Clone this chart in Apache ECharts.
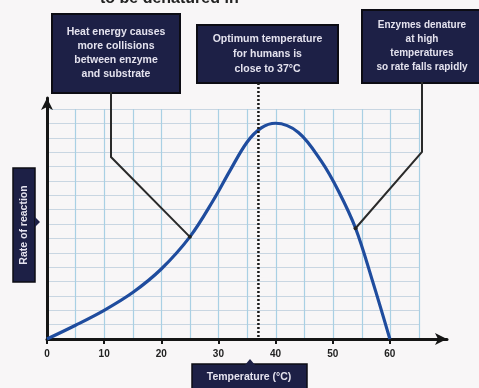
<!DOCTYPE html>
<html>
<head>
<meta charset="utf-8">
<style>
  html, body { margin: 0; padding: 0; background: #f8f6f7; }
  #chart { width: 479px; height: 388px; }
</style>
<script src="https://cdn.jsdelivr.net/npm/echarts@6/dist/echarts.min.js"></script>
</head>
<body>
<div id="chart"></div>
<script>
// Enzyme activity curve: rate of reaction against temperature
const temps = [0, 5, 10, 15, 20, 25, 29, 32, 35, 37.5, 40, 44, 48, 51, 54, 57, 60];
const rates = [0, 2.4, 5.0, 8.1, 12.2, 17.8, 24.0, 29.3, 34.3, 36.8, 37.6, 36, 31, 25.8, 19.3, 10, 0];
const tickLabels = [0, 10, 20, 30, 40, 50, 60];
const optimumTemp = 37;
const risingNoteTemp = 25;
const fallingNoteTemp = 54;

const noteRising = ['Heat energy causes', 'more collisions', 'between enzyme', 'and substrate'];
const noteOptimum = ['Optimum temperature', 'for humans is', 'close to 37°C'];
const noteFalling = ['Enzymes denature', 'at high', 'temperatures', 'so rate falls rapidly'];
const xAxisTitle = 'Temperature (°C)';
const yAxisTitle = 'Rate of reaction';

const NAVY = '#1d2046';
const INK = '#151515';
const FONT = '"Liberation Sans", Arial, sans-serif';

const chart = echarts.init(document.getElementById('chart'), null, { renderer: 'canvas' });

chart.setOption({
  backgroundColor: '#f8f6f7',
  animation: false,
  grid: [
    // graph-paper area
    { left: 47, top: 109, width: 372, height: 230 },
    // plotting area with arrowed axes
    { left: 47, top: 98, width: 400, height: 241 }
  ],
  xAxis: [
    {
      gridIndex: 0, type: 'value', min: 0, max: 65, interval: 5,
      axisLine: { show: false }, axisTick: { show: false }, axisLabel: { show: false },
      splitLine: { show: true, lineStyle: { color: '#a9d0e4', width: 1.2 } }
    },
    {
      gridIndex: 1, type: 'value', min: 0, max: 70, interval: 10,
      axisLine: {
        show: true, symbol: ['none', 'arrow'], symbolSize: [9, 12],
        lineStyle: { color: INK, width: 3 }
      },
      axisTick: {
        show: true, length: 5, inside: false, customValues: tickLabels,
        lineStyle: { color: INK, width: 2 }
      },
      axisLabel: {
        show: true, margin: 10, customValues: tickLabels,
        color: '#222', fontSize: 10, fontWeight: 'bold', fontFamily: FONT
      },
      splitLine: { show: false }
    }
  ],
  yAxis: [
    {
      gridIndex: 0, type: 'value', min: 0, max: 40, interval: 2.5,
      axisLine: { show: false }, axisTick: { show: false }, axisLabel: { show: false },
      splitLine: { show: true, lineStyle: { color: '#c9d6e2', width: 1 } }
    },
    {
      gridIndex: 1, type: 'value', min: 0, max: 42,
      axisLine: {
        show: true, symbol: ['none', 'arrow'], symbolSize: [9, 12],
        lineStyle: { color: INK, width: 3 }
      },
      axisTick: { show: false }, axisLabel: { show: false }, splitLine: { show: false }
    }
  ],
  series: [
    {
      type: 'line',
      xAxisIndex: 1, yAxisIndex: 1,
      data: temps.map((t, i) => [t, rates[i]]),
      smooth: 0.35,
      showSymbol: false,
      lineStyle: { color: '#1f4c9e', width: 3.2 },
      z: 5
    }
  ]
});

// Annotation boxes and their leader lines, anchored on the curve
const rateAt = t => rates[temps.indexOf(t)];
const pRise = chart.convertToPixel({ gridIndex: 1 }, [risingNoteTemp, rateAt(risingNoteTemp)]);
const pFall = chart.convertToPixel({ gridIndex: 1 }, [fallingNoteTemp, rateAt(fallingNoteTemp)]);
const pOptTop = chart.convertToPixel({ gridIndex: 1 }, [optimumTemp, 0]);

function noteBox(x, y, w, h, lines, lineGap, fontSize) {
  const children = [{
    type: 'rect',
    shape: { x: 0, y: 0, width: w, height: h },
    style: { fill: NAVY, stroke: '#0c0c14', lineWidth: 2 }
  }];
  const total = (lines.length - 1) * lineGap;
  lines.forEach((s, i) => {
    children.push({
      type: 'text',
      style: {
        x: w / 2, y: h / 2 - total / 2 + i * lineGap,
        text: s, fill: '#e4e2ee', font: `bold ${fontSize}px ${FONT}`,
        align: 'center', verticalAlign: 'middle'
      }
    });
  });
  return { type: 'group', x, y, children, z: 20 };
}

chart.setOption({
  graphic: [
    // cut-off heading at the top
    {
      type: 'text', x: 100, y: -9, z: 20,
      style: { text: 'to be denatured in', fill: '#222', font: `bold 16px ${FONT}` }
    },
    // optimum temperature marker
    {
      type: 'line', z: 15,
      shape: { x1: pOptTop[0], y1: 83, x2: pOptTop[0], y2: pOptTop[1] },
      style: { stroke: '#1a1a1a', lineWidth: 2.5, lineDash: [2, 2] }
    },
    // leader to rising part of the curve
    {
      type: 'polyline', z: 15,
      shape: { points: [[111, 92], [111, 157], pRise] },
      style: { stroke: '#2a2a2a', lineWidth: 2, fill: null }
    },
    {
      type: 'circle', z: 16,
      shape: { cx: pRise[0], cy: pRise[1], r: 2 },
      style: { fill: '#222' }
    },
    // leader to falling part of the curve
    {
      type: 'polyline', z: 15,
      shape: { points: [[422, 82], [422, 152], pFall] },
      style: { stroke: '#2a2a2a', lineWidth: 2, fill: null }
    },
    {
      type: 'circle', z: 16,
      shape: { cx: pFall[0], cy: pFall[1], r: 2 },
      style: { fill: '#222' }
    },
    noteBox(52, 14, 128, 79, noteRising, 14, 10.5),
    noteBox(197, 25, 141, 58, noteOptimum, 15, 10.5),
    noteBox(362, 10, 120, 73, noteFalling, 14, 10),
    // y-axis title tag with pointer
    {
      type: 'polygon', z: 19,
      shape: { points: [[35, 217], [40, 222], [35, 227]] },
      style: { fill: NAVY }
    },
    {
      type: 'group', x: 13, y: 168, z: 20,
      children: [
        { type: 'rect', shape: { x: 0, y: 0, width: 22, height: 114 }, style: { fill: NAVY, stroke: '#0c0c14', lineWidth: 1.5 } },
        {
          type: 'text', x: 11, y: 57, rotation: Math.PI / 2,
          style: { text: yAxisTitle, fill: '#e4e2ee', font: `bold 10.5px ${FONT}`, align: 'center', verticalAlign: 'middle' }
        }
      ]
    },
    // x-axis title tag with pointer
    {
      type: 'polygon', z: 19,
      shape: { points: [[245, 365], [250, 359], [255, 365]] },
      style: { fill: NAVY }
    },
    {
      type: 'group', x: 192, y: 364, z: 20,
      children: [
        { type: 'rect', shape: { x: 0, y: 0, width: 115, height: 30 }, style: { fill: NAVY, stroke: '#0c0c14', lineWidth: 1.5 } },
        {
          type: 'text', x: 57, y: 13,
          style: { text: xAxisTitle, fill: '#e4e2ee', font: `bold 10.5px ${FONT}`, align: 'center', verticalAlign: 'middle' }
        }
      ]
    }
  ]
});
</script>
</body>
</html>
